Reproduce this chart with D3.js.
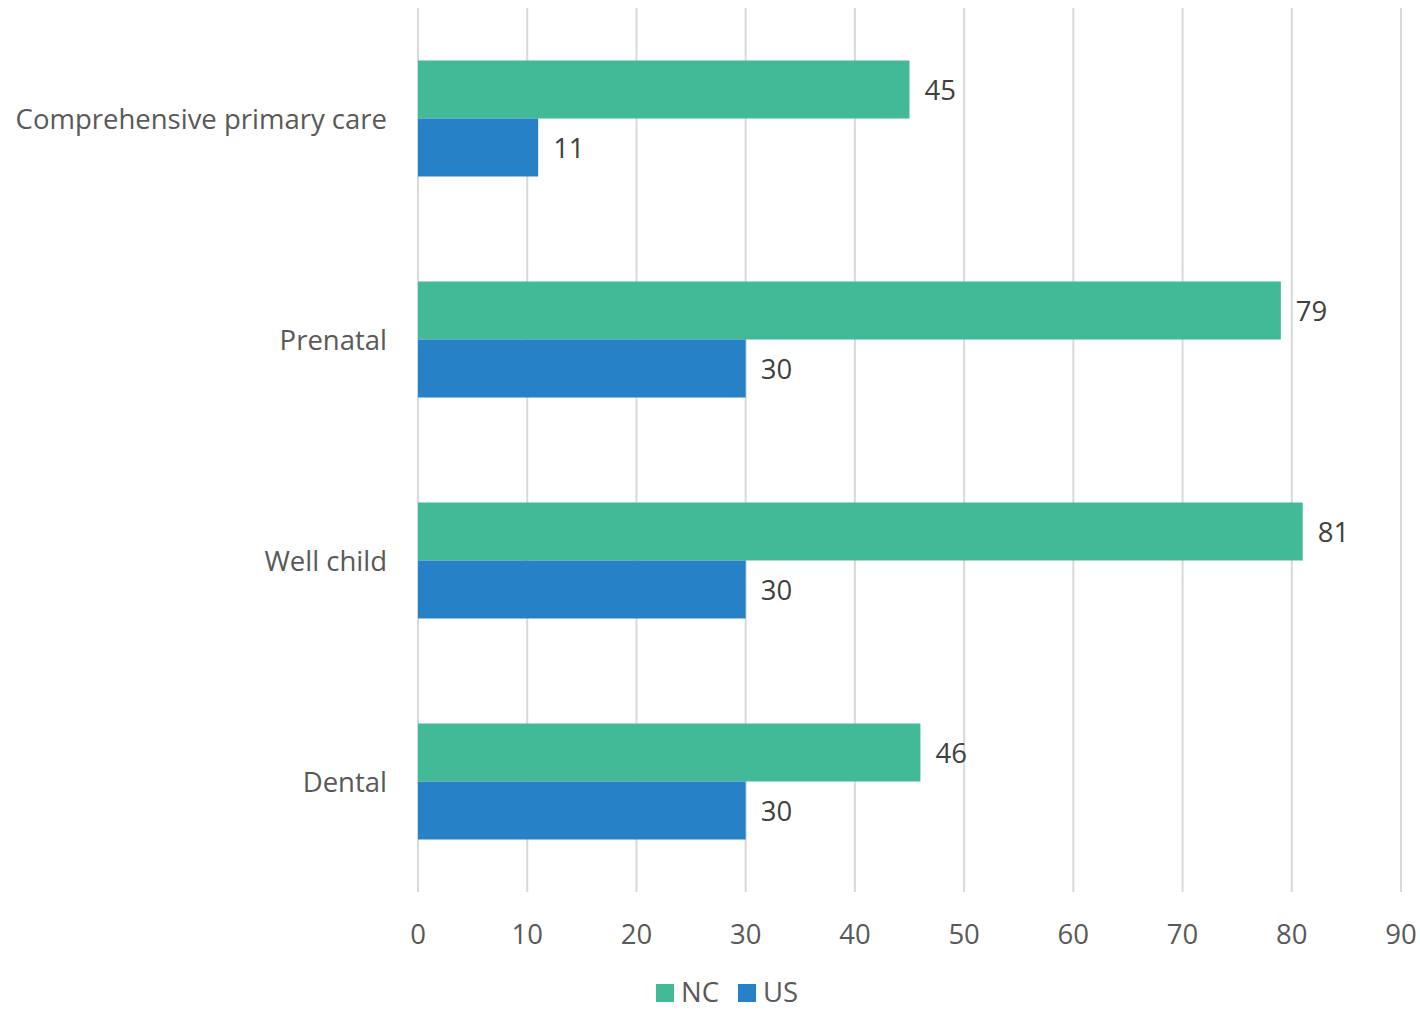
<!DOCTYPE html>
<html>
<head>
<meta charset="utf-8">
<script src="https://cdn.jsdelivr.net/npm/d3@7"></script>
<style>
  body { margin: 0; background: #fff; }
  text { font-family: "Open Sans", Lato, sans-serif; }
</style>
</head>
<body>
<svg id="chart" width="1420" height="1010"></svg>
<script>
const categories = ["Comprehensive primary care", "Prenatal", "Well child", "Dental"];
const series = ["NC", "US"];
const ncValues = [45, 79, 81, 46];
const usValues = [11, 30, 30, 30];
const xTicks = [0, 10, 20, 30, 40, 50, 60, 70, 80, 90];
const colors = { NC: "#43BA97", US: "#2681C6" };

const svg = d3.select("#chart");
const plot = { left: 418, right: 1401, top: 8, bottom: 892 };
const fontSize = 27.5;

const x = d3.scaleLinear().domain([0, 90]).range([plot.left, plot.right]);
const y = d3.scaleBand().domain(categories).range([plot.top, plot.bottom]);
const barH = 58;
const sub = d3.scaleBand().domain(series).range([0, barH * 2]);

// gridlines
svg.append("g")
    .selectAll("line")
    .data(xTicks)
    .enter().append("line")
    .attr("x1", d => x(d))
    .attr("x2", d => x(d))
    .attr("y1", plot.top)
    .attr("y2", plot.bottom)
    .attr("stroke", "#d9d9d9")
    .attr("stroke-width", 2);

// tick labels
svg.append("g")
    .selectAll("text")
    .data(xTicks)
    .enter().append("text")
    .attr("x", d => x(d))
    .attr("y", 944)
    .attr("text-anchor", "middle")
    .attr("font-size", fontSize)
    .attr("fill", "#595959")
    .text(d => d);

// category labels
svg.append("g")
    .selectAll("text")
    .data(categories)
    .enter().append("text")
    .attr("x", 387)
    .attr("y", d => y(d) + y.bandwidth() / 2 + 10)
    .attr("text-anchor", "end")
    .attr("font-size", fontSize)
    .attr("fill", "#595959")
    .text(d => d);

const rows = categories.map((c, i) => ({ cat: c, NC: ncValues[i], US: usValues[i] }));

const groups = svg.append("g")
    .selectAll("g")
    .data(rows)
    .enter().append("g")
    .attr("transform", d => `translate(0, ${y(d.cat) + y.bandwidth() / 2 - barH})`);

groups.selectAll("rect")
    .data(d => series.map(s => ({ s, v: d[s] })))
    .enter().append("rect")
    .attr("x", x(0))
    .attr("y", d => sub(d.s))
    .attr("width", d => x(d.v) - x(0))
    .attr("height", sub.bandwidth())
    .attr("fill", d => colors[d.s]);

groups.selectAll("text")
    .data(d => series.map(s => ({ s, v: d[s] })))
    .enter().append("text")
    .attr("x", d => x(d.v) + 15)
    .attr("y", d => sub(d.s) + sub.bandwidth() / 2 + 10)
    .attr("font-size", fontSize)
    .attr("fill", "#404040")
    .text(d => d.v);

// legend
const legend = svg.append("g").attr("transform", "translate(656, 993)");
const items = [{ s: "NC", dx: 0 }, { s: "US", dx: 82 }];
items.forEach(it => {
    legend.append("rect")
        .attr("x", it.dx)
        .attr("y", -9)
        .attr("width", 18)
        .attr("height", 18)
        .attr("fill", colors[it.s]);
    legend.append("text")
        .attr("x", it.dx + 25)
        .attr("y", 9)
        .attr("font-size", fontSize)
        .attr("fill", "#595959")
        .text(it.s);
});
</script>
</body>
</html>
